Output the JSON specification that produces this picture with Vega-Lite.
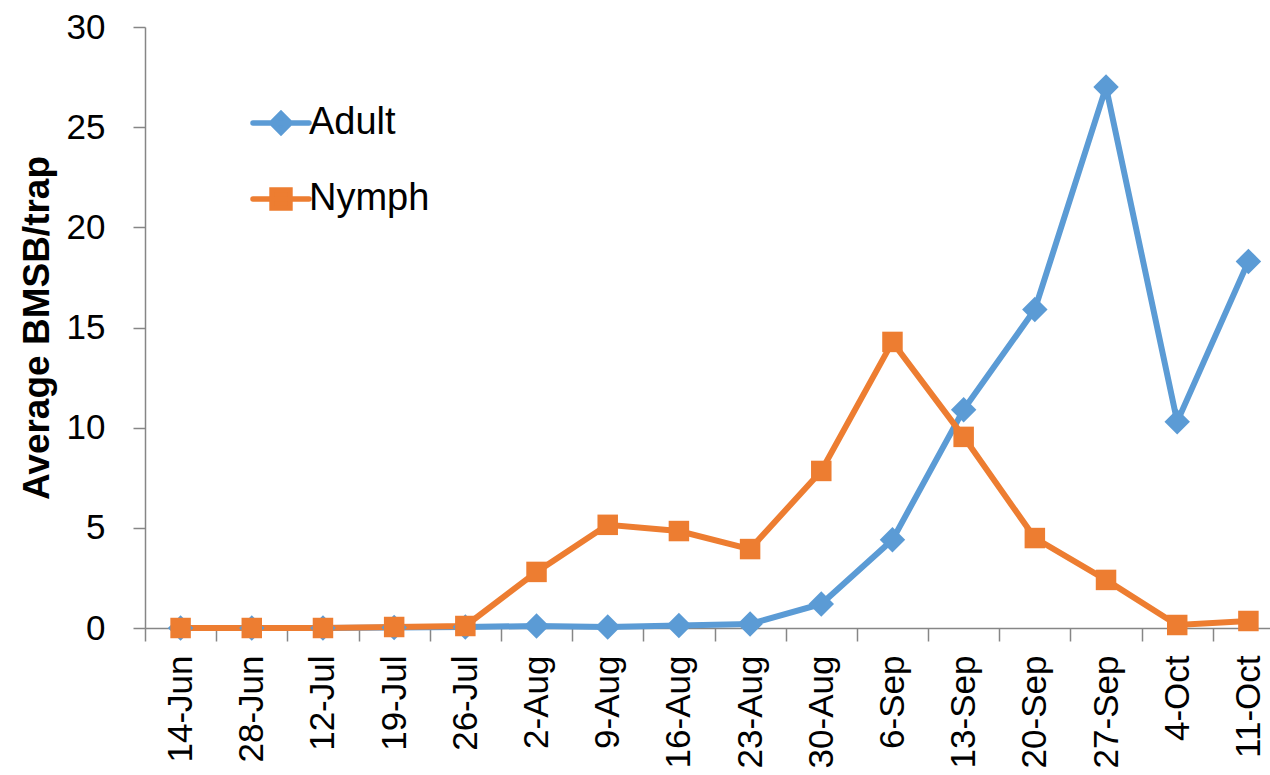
{
  "$schema": "https://vega.github.io/schema/vega-lite/v6.json",
  "width": 1125,
  "height": 601,
  "autosize": "none",
  "padding": {"left": 145, "top": 27, "right": 0, "bottom": 147},
  "background": "white",
  "config": {"view": {"stroke": null}, "font": "Liberation Sans"},
  "data": {
    "values": [
      {"i": 1, "date": "14-Jun", "series": "Adult", "value": 0},
      {"i": 2, "date": "28-Jun", "series": "Adult", "value": 0},
      {"i": 3, "date": "12-Jul", "series": "Adult", "value": 0},
      {"i": 4, "date": "19-Jul", "series": "Adult", "value": 0.03},
      {"i": 5, "date": "26-Jul", "series": "Adult", "value": 0.05},
      {"i": 6, "date": "2-Aug", "series": "Adult", "value": 0.1},
      {"i": 7, "date": "9-Aug", "series": "Adult", "value": 0.05},
      {"i": 8, "date": "16-Aug", "series": "Adult", "value": 0.12},
      {"i": 9, "date": "23-Aug", "series": "Adult", "value": 0.2},
      {"i": 10, "date": "30-Aug", "series": "Adult", "value": 1.2},
      {"i": 11, "date": "6-Sep", "series": "Adult", "value": 4.4},
      {"i": 12, "date": "13-Sep", "series": "Adult", "value": 10.9},
      {"i": 13, "date": "20-Sep", "series": "Adult", "value": 15.9},
      {"i": 14, "date": "27-Sep", "series": "Adult", "value": 27.0},
      {"i": 15, "date": "4-Oct", "series": "Adult", "value": 10.3},
      {"i": 16, "date": "11-Oct", "series": "Adult", "value": 18.3},
      {"i": 1, "date": "14-Jun", "series": "Nymph", "value": 0},
      {"i": 2, "date": "28-Jun", "series": "Nymph", "value": 0},
      {"i": 3, "date": "12-Jul", "series": "Nymph", "value": 0},
      {"i": 4, "date": "19-Jul", "series": "Nymph", "value": 0.05},
      {"i": 5, "date": "26-Jul", "series": "Nymph", "value": 0.1},
      {"i": 6, "date": "2-Aug", "series": "Nymph", "value": 2.8},
      {"i": 7, "date": "9-Aug", "series": "Nymph", "value": 5.15},
      {"i": 8, "date": "16-Aug", "series": "Nymph", "value": 4.84},
      {"i": 9, "date": "23-Aug", "series": "Nymph", "value": 3.94},
      {"i": 10, "date": "30-Aug", "series": "Nymph", "value": 7.84},
      {"i": 11, "date": "6-Sep", "series": "Nymph", "value": 14.28},
      {"i": 12, "date": "13-Sep", "series": "Nymph", "value": 9.54},
      {"i": 13, "date": "20-Sep", "series": "Nymph", "value": 4.49},
      {"i": 14, "date": "27-Sep", "series": "Nymph", "value": 2.4},
      {"i": 15, "date": "4-Oct", "series": "Nymph", "value": 0.15},
      {"i": 16, "date": "11-Oct", "series": "Nymph", "value": 0.35}
    ]
  },
  "encoding": {
    "x": {
      "field": "date",
      "type": "ordinal",
      "sort": {"field": "i", "op": "min"},
      "scale": {"type": "band", "paddingInner": 0, "paddingOuter": 0, "range": [0, 1139]},
      "axis": {
        "title": null,
        "labelAngle": -90,
        "labelAlign": "right",
        "labelBaseline": "middle",
        "labelFontSize": 35,
        "labelColor": "black",
        "labelPadding": 14,
        "tickBand": "extent",
        "tickSize": 13,
        "tickColor": "#868686",
        "tickWidth": 1.5,
        "domainColor": "#868686",
        "domainWidth": 1.5,
        "grid": false
      }
    },
    "y": {
      "field": "value",
      "type": "quantitative",
      "scale": {"domain": [0, 30], "nice": false},
      "axis": {
        "title": "Average BMSB/trap",
        "titleFontSize": 37,
        "titleFontWeight": "bold",
        "titleColor": "black",
        "titlePadding": 10,
        "values": [0, 5, 10, 15, 20, 25, 30],
        "labelFontSize": 35,
        "labelColor": "black",
        "labelPadding": 28,
        "tickSize": 12,
        "tickColor": "#868686",
        "tickWidth": 1.5,
        "domainColor": "#868686",
        "domainWidth": 1.5,
        "grid": false
      }
    },
    "color": {
      "field": "series",
      "type": "nominal",
      "scale": {"domain": ["Adult", "Nymph"], "range": ["#5B9BD5", "#ED7D31"]},
      "legend": {
        "orient": "none",
        "legendX": 105,
        "legendY": 65,
        "title": null,
        "labelFontSize": 38,
        "labelColor": "black",
        "labelOffset": -3,
        "symbolSize": 3136,
        "rowPadding": 24,
        "encode": {
          "symbols": {
            "update": {
              "shape": {"signal": "datum.value === 'Adult' ? 'M-1,0H1M0,-0.33L0.33,0L0,0.33L-0.33,0Z' : 'M-1,0H1M-0.32,-0.32H0.32V0.32H-0.32Z'"},
              "fill": {"scale": "color", "field": "value"},
              "stroke": {"scale": "color", "field": "value"},
              "strokeWidth": {"value": 5.5},
              "strokeCap": {"value": "round"},
              "opacity": {"value": 1}
            }
          }
        }
      }
    }
  },
  "layer": [
    {
      "mark": {"type": "line", "strokeWidth": 6},
      "encoding": {"order": {"field": "i", "type": "quantitative"}}
    },
    {
      "transform": [{"filter": "datum.series === 'Adult'"}],
      "mark": {"type": "point", "filled": true, "opacity": 1, "size": 650, "shape": "diamond"}
    },
    {
      "transform": [{"filter": "datum.series === 'Nymph'"}],
      "mark": {"type": "point", "filled": true, "opacity": 1, "size": 420, "shape": "square"}
    }
  ]
}
